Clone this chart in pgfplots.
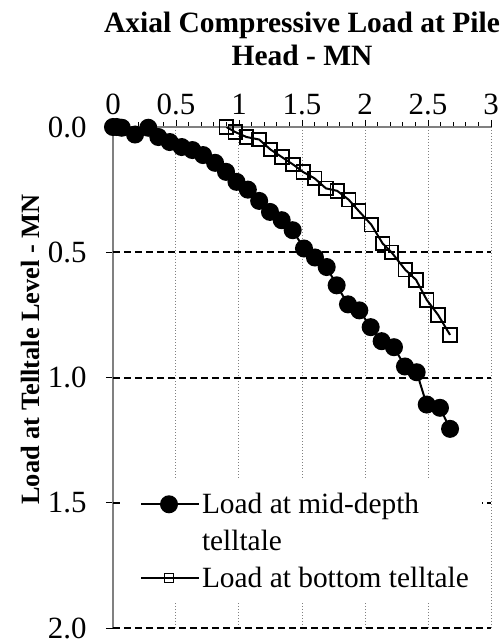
\documentclass[border=0pt]{standalone}
\usepackage{fontspec}
\setmainfont{Liberation Serif}
\usepackage{pgfplots}
\pgfplotsset{compat=1.18}
\definecolor{axgray}{HTML}{808080}
\pgfplotsset{
  legcirc/.style={legend image code/.code={%
    \draw[##1] (0bp,9bp) -- (58bp,9bp);
    \draw[##1] plot coordinates {(28bp,9bp)};}},
  legsq/.style={legend image code/.code={%
    \draw[##1] (0bp,9bp) -- (58bp,9bp);
    \draw[##1, mark size=4.5bp] plot coordinates {(28bp,9bp)};}},
}

\begin{document}
\begin{tikzpicture}
\path[use as bounding box] (-113bp,-14bp) rectangle (390bp,628bp);
\begin{axis}[
  at={(0,0)}, anchor=south west,
  scale only axis, width=378bp, height=501bp,
  xmin=0, xmax=3, ymin=0, ymax=2,
  y dir=reverse,
  axis x line*=top, axis y line*=left,
  axis line style={axgray, line width=1.2bp, -},
  xtick={0,0.5,...,3}, ytick={0,0.5,...,2},
  minor x tick num=4,
  tick align=outside,
  major tick length=7bp, minor tick length=5bp,
  tick style={black, line width=0.8bp},
  /pgf/number format/assume math mode=true,
  ticklabel style={font=\fontsize{31}{33}\selectfont},
  yticklabel style={/pgf/number format/.cd, fixed, fixed zerofill, precision=1},
  xticklabel style={/pgf/number format/.cd, fixed},
  yticklabel shift=16bp,
  xticklabel shift=2bp,
  xlabel={Axial Compressive Load at Pile\\Head - MN},
  ylabel={Load at Telltale Level - MN},
  xlabel style={align=center, font=\bfseries\fontsize{29.6}{33}\selectfont},
  xlabel shift=10bp,
  ylabel style={font=\bfseries\fontsize{26.5}{30}\selectfont,
    at={(axis cs:-0.555,0.888)}, anchor=south},
  extra x ticks={0.5,1,1.5,2,2.5,3}, extra x tick labels={},
  extra y ticks={0.5,1,1.5,2}, extra y tick labels={},
  extra x tick style={grid=major, major grid style={axgray, line width=1bp, dotted}, major tick length=0pt},
  extra y tick style={grid=major, major grid style={black, line width=2bp, dash pattern=on 7bp off 4bp}, major tick length=0pt},
  legend style={at={(axis cs:0.07,1.404)}, anchor=north west, fill=white, draw=none,
    font=\fontsize{29.5}{36}\selectfont, cells={anchor=base west, inner ysep=0bp},
    inner xsep=18bp, inner ysep=12bp, row sep=11bp},
]
\addplot[black, line width=2bp, mark=*, mark size=8bp, mark options={fill=black}, legcirc]
coordinates {
  (0,0)(0.03,0)(0.07,0.003)(0.175,0.03)(0.28,0.003)(0.36,0.04)(0.45,0.06)
  (0.545,0.08)(0.63,0.092)(0.715,0.112)(0.81,0.143)(0.897,0.179)(0.98,0.219)
  (1.07,0.25)(1.16,0.295)(1.246,0.339)(1.339,0.372)(1.426,0.412)(1.516,0.485)
  (1.603,0.521)(1.696,0.559)(1.775,0.632)(1.865,0.708)(1.955,0.732)(2.045,0.799)
  (2.132,0.855)(2.23,0.879)(2.317,0.956)(2.41,0.979)(2.49,1.108)(2.595,1.121)
  (2.675,1.205)
};
\addlegendentry{Load at mid-depth}
\addlegendimage{empty legend}
\addlegendentry{telltale}
\addplot[black, line width=2bp, mark=square, mark size=6.8bp, mark options={line width=1.8bp}, legsq]
coordinates {
  (0.90,0.00)(0.97,0.02)(1.06,0.04)(1.16,0.05)(1.25,0.09)(1.34,0.12)(1.43,0.15)
  (1.51,0.18)(1.60,0.205)(1.69,0.245)(1.78,0.255)(1.87,0.29)(1.95,0.335)
  (2.05,0.39)(2.14,0.465)(2.21,0.50)(2.32,0.57)(2.405,0.61)(2.49,0.69)
  (2.58,0.75)(2.675,0.83)
};
\addlegendentry{\makebox[260bp][l]{Load at bottom telltale\rule[-30bp]{0pt}{30bp}}}
\end{axis}
\end{tikzpicture}
\end{document}
